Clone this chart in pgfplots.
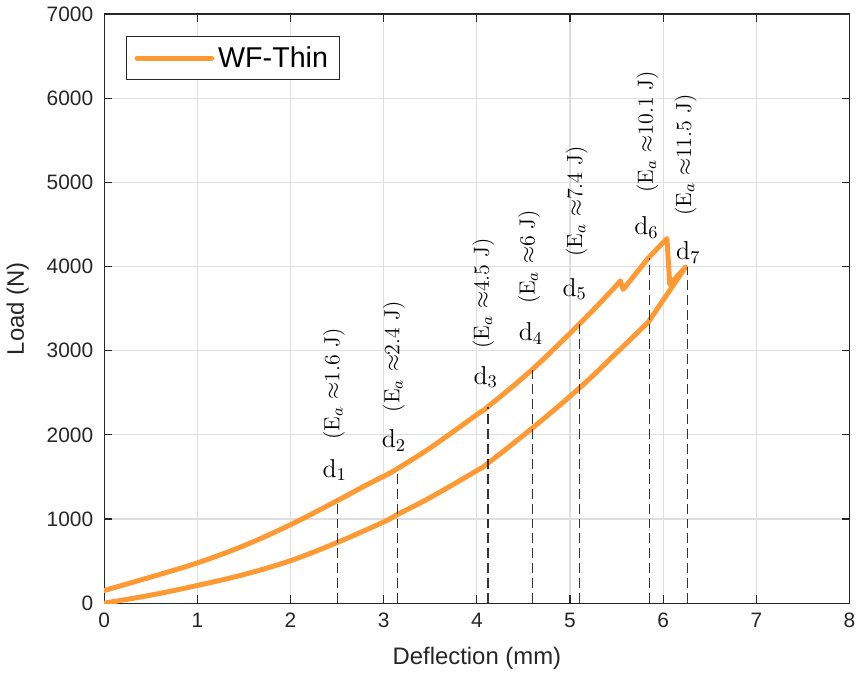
\documentclass[border=0pt]{standalone}
\usepackage{fontspec}
\usepackage{pgfplots}
\pgfplotsset{compat=1.18}
\newfontfamily\arial{Liberation Sans}
\definecolor{wf}{RGB}{255,153,51}
\definecolor{gridc}{RGB}{223,223,223}
\definecolor{axc}{RGB}{38,38,38}
\definecolor{dashc}{RGB}{51,51,51}
\tikzset{
  dlab/.style={inner sep=0pt, anchor=base, font=\fontsize{13}{15}\selectfont},
  elab/.style={inner sep=0pt, rotate=90, anchor=west, font=\fontsize{11}{13}\selectfont},
}
\pgfplotsset{
  wfline/.style={wf, line width=2.5pt, line join=round, line cap=round},
  dl/.style={dashc, dash pattern=on 5pt off 2.5pt, line width=0.6pt, forget plot},
}
\begin{document}
\begin{tikzpicture}
\begin{axis}[
  scale only axis,
  width=374.5pt, height=296pt,
  xmin=0, xmax=8, ymin=0, ymax=7000,
  xtick={0,1,...,8}, ytick={0,1000,...,7000},
  grid=major,
  major grid style={gridc, line width=0.6pt},
  axis line style={axc, line width=0.6pt},
  tick style={axc, line width=0.6pt},
  tick align=inside,
  major tick length=4pt,
  xtick pos=both, ytick pos=both,
  scaled y ticks=false,
  /pgf/number format/assume math mode=true,
  /pgf/number format/set thousands separator={},
  tick label style={font=\arial\fontsize{10.5}{12}\selectfont, text=axc},
  yticklabel style={xshift=-2pt},
  xticklabel style={yshift=-1.5pt},
  xlabel={Deflection (mm)}, ylabel={Load (N)},
  label style={font=\arial\fontsize{12}{14}\selectfont, text=axc},
  xlabel style={at={(axis description cs:0.5,-0.093)}, anchor=center},
  ylabel style={at={(axis description cs:-0.116,0.5)}, anchor=center},
  legend style={at={(axis description cs:0.0294,0.963)}, anchor=north west,
    draw=axc, line width=0.5pt, fill=white,
    font=\arial\fontsize{14.4}{16}\selectfont, inner xsep=4pt, inner ysep=3pt},
  legend image code/.code={\draw[#1] (0pt,0pt) -- (37.5pt,0pt);},
]
% loading, first part
\addplot[wfline, smooth, tension=0.6] coordinates {
(0,150) (0.5,310) (1,478) (1.5,683) (2,932) (2.5,1217) (2.8,1395) (3.05,1535)
};
\addlegendentry{WF-Thin}
% loading, second part
\addplot[wfline, smooth, tension=0.6, forget plot] coordinates {
(3.05,1535) (3.15,1600) (3.5,1845) (4,2240) (4.12,2335) (4.59,2772)
(5.1,3316) (5.39,3647) (5.54,3827)
};
% load drops and reloading
\addplot[wfline, forget plot] coordinates {
(5.54,3827) (5.57,3728) (5.84,4100) (6.04,4333) (6.07,3788) (6.24,3993)
(5.84,3340)
};
% unloading
\addplot[wfline, smooth, tension=0.6, forget plot] coordinates {
(5.84,3340) (5.5,2975) (5.1,2555) (4.59,2075) (4.12,1664) (4,1575) (3.5,1255)
(3.15,1055) (3,965) (2.5,720) (2,505) (1.5,340) (1,210) (0.5,95) (0,0)
};
\addplot[dl] coordinates {(2.5,0) (2.5,1230)};
\addplot[dl] coordinates {(3.15,0) (3.15,1595)};
\addplot[dl] coordinates {(4.12,0) (4.12,2335)};
\addplot[dl] coordinates {(4.6,0) (4.6,2775)};
\addplot[dl] coordinates {(5.1,0) (5.1,3316)};
\addplot[dl] coordinates {(5.85,0) (5.85,4105)};
\addplot[dl] coordinates {(6.26,0) (6.26,3995)};
\node[dlab] at (axis cs:2.475,1495) {d$_1$};
\node[dlab] at (axis cs:3.11,1850) {d$_2$};
\node[dlab] at (axis cs:4.095,2601) {d$_3$};
\node[dlab] at (axis cs:4.58,3115) {d$_4$};
\node[dlab] at (axis cs:5.05,3649) {d$_5$};
\node[dlab] at (axis cs:5.82,4381) {d$_6$};
\node[dlab] at (axis cs:6.27,4084) {d$_7$};
\node[elab] at (axis cs:2.466,1941) {(E$_a$ $\approx$1.6 J)};
\node[elab] at (axis cs:3.11,2266) {(E$_a$ $\approx$2.4 J)};
\node[elab] at (axis cs:4.07,3017) {(E$_a$ $\approx$4.5 J)};
\node[elab] at (axis cs:4.56,3550) {(E$_a$ $\approx$6 J)};
\node[elab] at (axis cs:5.07,4110) {(E$_a$ $\approx$7.4 J)};
\node[elab] at (axis cs:5.83,4876) {(E$_a$ $\approx$10.1 J)};
\node[elab] at (axis cs:6.24,4598) {(E$_a$ $\approx$11.5 J)};
\end{axis}
\end{tikzpicture}
\end{document}
